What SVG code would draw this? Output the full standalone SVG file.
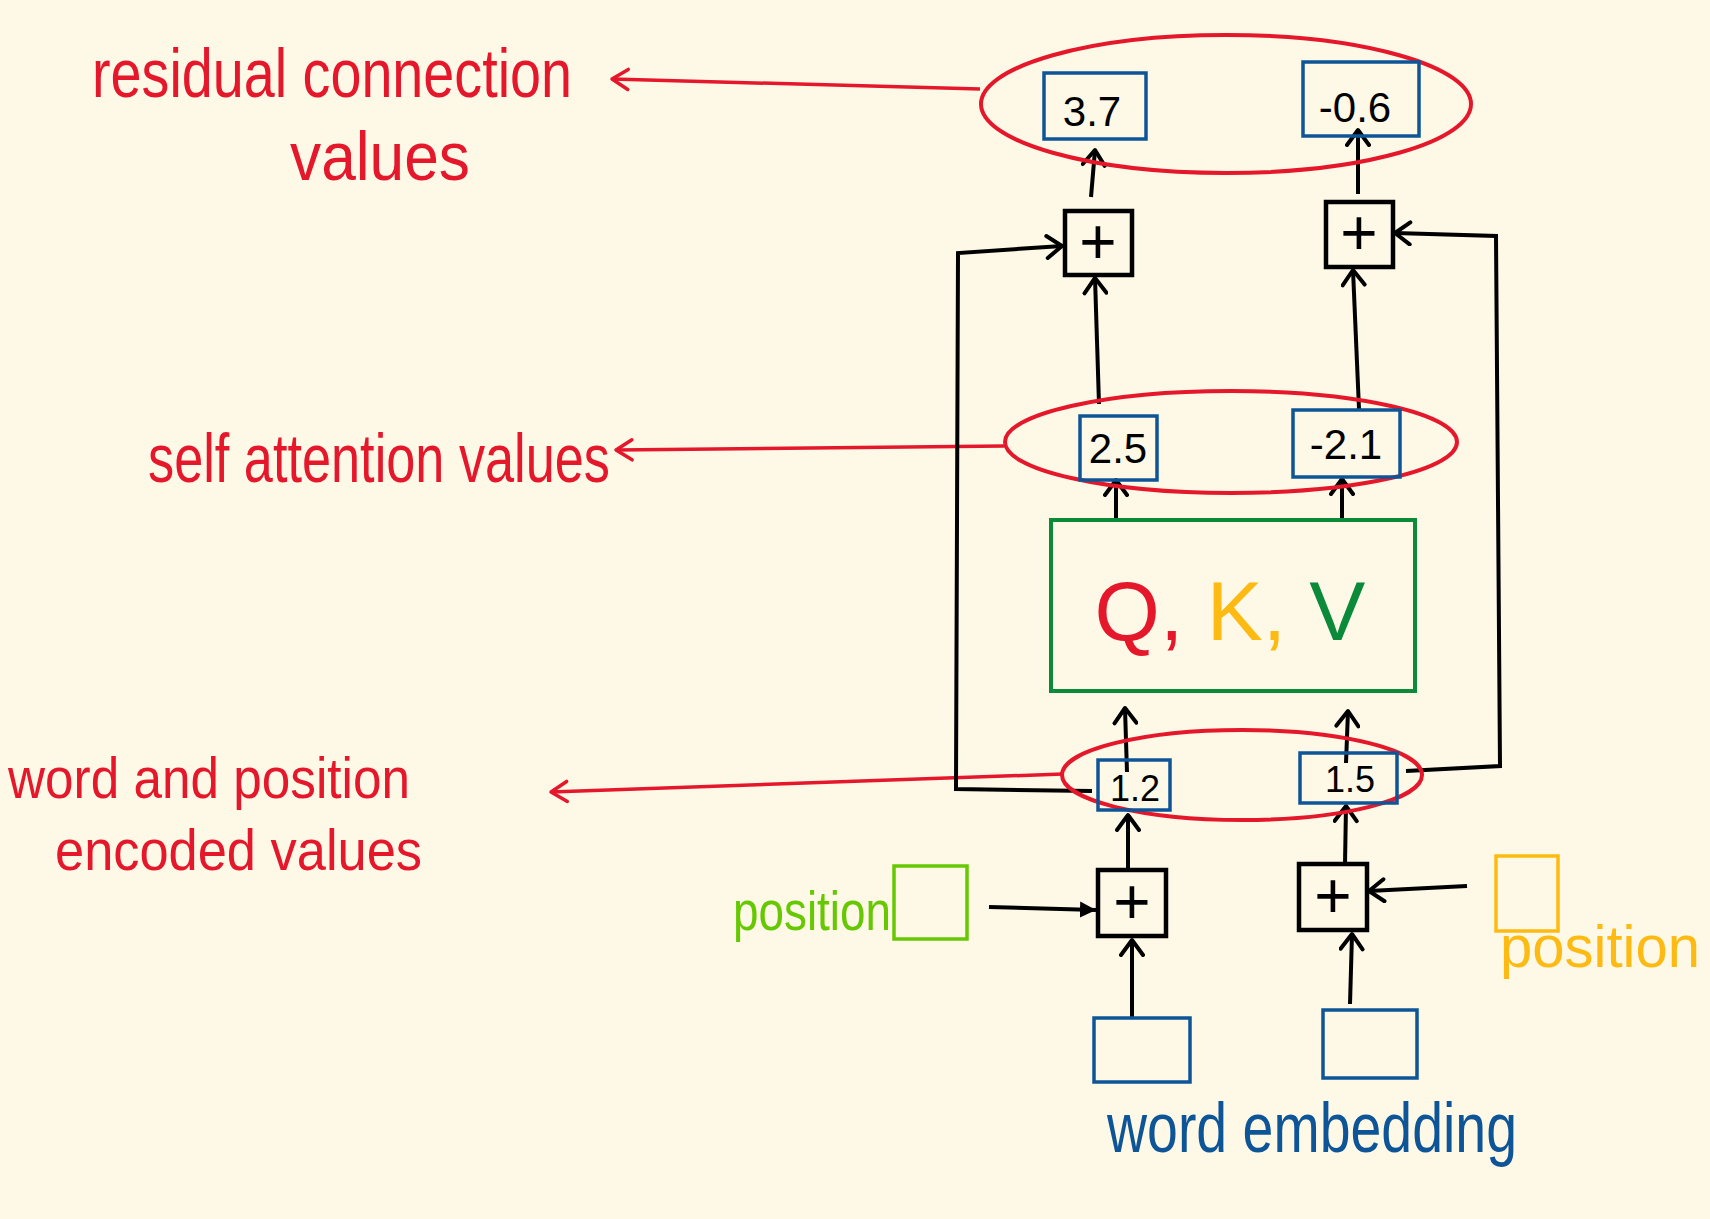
<svg xmlns="http://www.w3.org/2000/svg" width="1710" height="1219" viewBox="0 0 1710 1219">
<style>
.bg{fill:#FEF8E7}
.ell{fill:none;stroke:#E5172B;stroke-width:4}
.vbox{fill:none;stroke:#0E5597;stroke-width:3.5}
.pbox{fill:none;stroke:#000;stroke-width:4.5}
.ln{fill:none;stroke:#000;stroke-width:4}
.rln{fill:none;stroke:#E5172B;stroke-width:3.5}
.num{font-family:"Liberation Sans",Arial,sans-serif;font-size:42px;fill:#000;text-anchor:middle}
.plus{font-family:"Liberation Sans",Arial,sans-serif;font-size:64px;fill:#000;text-anchor:middle}
.lbl{font-family:"Liberation Sans",Arial,sans-serif;font-size:68px;fill:#E5172B}
.lbs{font-size:58px}
</style>
<defs>
<marker id="ab" markerUnits="userSpaceOnUse" markerWidth="22" markerHeight="26" refX="18" refY="13" orient="auto">
<path d="M3,2 L18,13 L3,24" fill="none" stroke="#000" stroke-width="4" stroke-linecap="round" stroke-linejoin="round"/>
</marker>
<marker id="ar" markerUnits="userSpaceOnUse" markerWidth="24" markerHeight="26" refX="19" refY="13" orient="auto">
<path d="M3,3 L19,13 L3,23" fill="none" stroke="#E5172B" stroke-width="3.5" stroke-linecap="round" stroke-linejoin="round"/>
</marker>
<marker id="af" markerUnits="userSpaceOnUse" markerWidth="18" markerHeight="18" refX="16" refY="9" orient="auto">
<path d="M0,1 L16,9 L0,17 Z" fill="#000"/>
</marker>
</defs>
<rect class="bg" x="0" y="0" width="1710" height="1219"/>

<g id="connectors">
<line class="rln" x1="980" y1="89" x2="612" y2="79" marker-end="url(#ar)"/>
<line class="rln" x1="1004" y1="446" x2="616" y2="450" marker-end="url(#ar)"/>
<line class="rln" x1="1063" y1="774" x2="551" y2="792" marker-end="url(#ar)"/>
<line class="ln" x1="1091" y1="197" x2="1095" y2="150" marker-end="url(#ab)"/>
<line class="ln" x1="1358" y1="194" x2="1358" y2="130" marker-end="url(#ab)"/>
<line class="ln" x1="1099" y1="404" x2="1095" y2="278" marker-end="url(#ab)"/>
<line class="ln" x1="1359" y1="409" x2="1353" y2="270" marker-end="url(#ab)"/>
<line class="ln" x1="1116" y1="520" x2="1116" y2="480" marker-end="url(#ab)"/>
<line class="ln" x1="1342" y1="520" x2="1342" y2="479" marker-end="url(#ab)"/>
<line class="ln" x1="1127" y1="772" x2="1125" y2="708" marker-end="url(#ab)"/>
<line class="ln" x1="1346" y1="763" x2="1348" y2="711" marker-end="url(#ab)"/>
<line class="ln" x1="1128" y1="870" x2="1128" y2="815" marker-end="url(#ab)"/>
<line class="ln" x1="1345" y1="864" x2="1346" y2="806" marker-end="url(#ab)"/>
<line class="ln" x1="1132" y1="1018" x2="1132" y2="940" marker-end="url(#ab)"/>
<line class="ln" x1="1350" y1="1004" x2="1352" y2="934" marker-end="url(#ab)"/>
<line class="ln" x1="989" y1="907" x2="1096" y2="910" marker-end="url(#af)"/>
<line class="ln" x1="1467" y1="886" x2="1369" y2="891" marker-end="url(#ab)"/>
<polyline class="ln" points="1092,791 956,789 958,253 1062,246" marker-end="url(#ab)"/>
<polyline class="ln" points="1406,771 1500,766 1496,236 1395,233" marker-end="url(#ab)"/>
</g>

<g id="residual-values">
<ellipse class="ell" cx="1226" cy="104" rx="245" ry="69"/>
<g id="v37"><rect class="vbox" x="1044" y="73" width="102" height="66"/><text class="num" x="1092" y="126">3.7</text></g>
<g id="vm06"><rect class="vbox" x="1303" y="62" width="116" height="74"/><text class="num" x="1355" y="122">-0.6</text></g>
</g>

<g id="plus-top-left"><rect class="pbox" x="1065" y="211" width="67" height="64"/><text class="plus" x="1098" y="264">+</text></g>
<g id="plus-top-right"><rect class="pbox" x="1326" y="202" width="67" height="65"/><text class="plus" x="1359" y="255">+</text></g>

<g id="self-attention-values">
<ellipse class="ell" cx="1231" cy="442" rx="226" ry="51"/>
<g id="v25"><rect class="vbox" x="1080" y="416" width="77" height="64"/><text class="num" x="1118" y="463">2.5</text></g>
<g id="vm21"><rect class="vbox" x="1293" y="410" width="107" height="67"/><text class="num" x="1346" y="459">-2.1</text></g>
</g>

<g id="qkv">
<rect x="1051" y="520" width="364" height="171" fill="none" stroke="#0B8A3A" stroke-width="4"/>
<text x="1230" y="640" text-anchor="middle" font-family="Liberation Sans, Arial, sans-serif" font-size="84"><tspan fill="#E5172B">Q</tspan><tspan fill="#E5172B">, </tspan><tspan fill="#FDBA12">K</tspan><tspan fill="#FDBA12">, </tspan><tspan fill="#0B8A3A">V</tspan></text>
</g>

<g id="encoded-values">
<ellipse class="ell" cx="1242" cy="775" rx="180" ry="45"/>
<g id="v12"><rect class="vbox" x="1098" y="760" width="72" height="50"/><text class="num" x="1135" y="801" style="font-size:36px">1.2</text></g>
<g id="v15"><rect class="vbox" x="1300" y="753" width="97" height="50"/><text class="num" x="1350" y="792" style="font-size:36px">1.5</text></g>
</g>

<g id="plus-bottom-left"><rect class="pbox" x="1098" y="870" width="68" height="66"/><text class="plus" x="1132" y="924">+</text></g>
<g id="plus-bottom-right"><rect class="pbox" x="1299" y="864" width="68" height="66"/><text class="plus" x="1333" y="918">+</text></g>

<g id="position-left">
<rect x="894" y="866" width="73" height="73" fill="none" stroke="#66C800" stroke-width="3.5"/>
<text x="733" y="930" font-family="Liberation Sans, Arial, sans-serif" font-size="56" fill="#66C800" textLength="158" lengthAdjust="spacingAndGlyphs">position</text>
</g>
<g id="position-right">
<rect x="1496" y="856" width="62" height="75" fill="none" stroke="#FDBA12" stroke-width="3.5"/>
<text x="1500" y="967" font-family="Liberation Sans, Arial, sans-serif" font-size="60" fill="#FDBA12" textLength="200" lengthAdjust="spacingAndGlyphs">position</text>
</g>

<g id="word-embedding">
<rect class="vbox" x="1094" y="1018" width="96" height="64"/>
<rect class="vbox" x="1323" y="1010" width="94" height="68"/>
<text x="1107" y="1152" font-family="Liberation Sans, Arial, sans-serif" font-size="70" fill="#0E5597" textLength="410" lengthAdjust="spacingAndGlyphs">word embedding</text>
</g>

<g id="labels">
<text class="lbl" x="92" y="97" textLength="480" lengthAdjust="spacingAndGlyphs">residual connection</text>
<text class="lbl" x="290" y="180" textLength="180" lengthAdjust="spacingAndGlyphs">values</text>
<text class="lbl" x="148" y="482" textLength="462" lengthAdjust="spacingAndGlyphs">self attention values</text>
<text class="lbl lbs" x="8" y="798" textLength="402" lengthAdjust="spacingAndGlyphs">word and position</text>
<text class="lbl lbs" x="55" y="870" textLength="367" lengthAdjust="spacingAndGlyphs">encoded values</text>
</g>
</svg>
